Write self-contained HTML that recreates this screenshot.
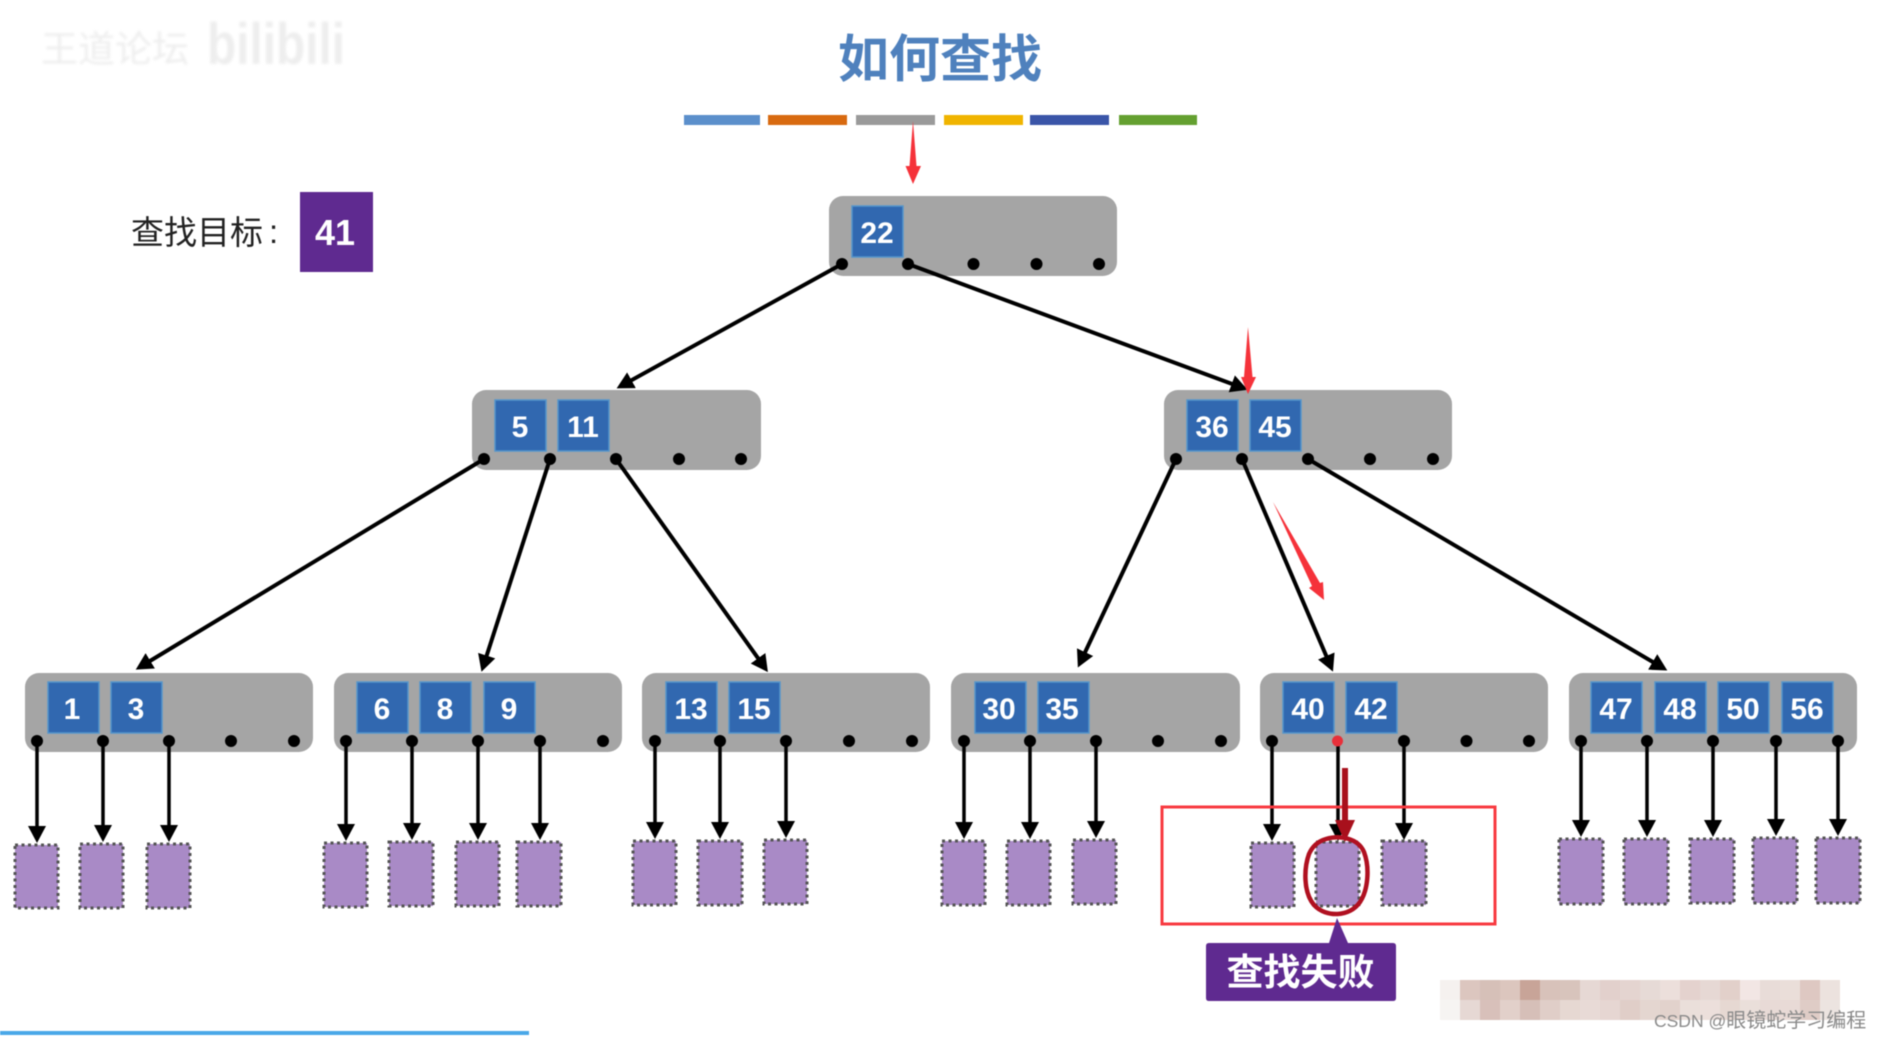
<!DOCTYPE html>
<html><head><meta charset="utf-8"><style>
html,body{margin:0;padding:0;background:#fff;width:1881px;height:1038px;overflow:hidden}
svg{display:block;filter:blur(.6px)}
text{font-family:"Liberation Sans","Noto Sans CJK SC",sans-serif}
.n{fill:#a5a5a5}
.k{fill:#3168b0;stroke:#5596cc;stroke-width:1.5}
.t{fill:#fff;font-weight:700;font-size:30px;text-anchor:middle}
.d{fill:#000}
.e{stroke:#000;stroke-width:4;fill:none;marker-end:url(#a)}
.v{stroke:#000;stroke-width:3.5;fill:none;marker-end:url(#a)}
.l{fill:#a98ac6;stroke:#555;stroke-width:3;stroke-dasharray:3 3.5}
</style></head><body>
<svg width="1881" height="1038" viewBox="0 0 1881 1038" xmlns="http://www.w3.org/2000/svg">
<defs>
<marker id="a" markerUnits="userSpaceOnUse" markerWidth="22" markerHeight="22" refX="12" refY="9" orient="auto"><path d="M0 0L17 9L0 18Z" fill="#000"/></marker>
<filter id="wm"><feGaussianBlur stdDeviation="1.2"/></filter>
</defs>

<!-- watermark -->
<g filter="url(#wm)" fill="#eeeeee">
<text x="41" y="62" font-size="37" style="font-weight:400">王道论坛</text>
<text x="207" y="64" font-size="58" font-weight="700" textLength="138" lengthAdjust="spacingAndGlyphs">bilibili</text>
</g>

<!-- title -->
<text x="940" y="77" font-size="51" font-weight="700" fill="#4f81bd" text-anchor="middle">如何查找</text>
<rect x="684" y="115" width="76" height="10" fill="#5b8fcb"/>
<rect x="768" y="115" width="79" height="10" fill="#d86a10"/>
<rect x="856" y="115" width="79" height="10" fill="#9a9a9a"/>
<rect x="944" y="115" width="79" height="10" fill="#f0b400"/>
<rect x="1030" y="115" width="79" height="10" fill="#3a55a8"/>
<rect x="1119" y="115" width="78" height="10" fill="#64a030"/>

<!-- target -->
<text x="131" y="244" font-size="33" fill="#222">查找目标</text>
<text x="269" y="243" font-size="33" fill="#222">:</text>
<rect x="300" y="192" width="73" height="80" fill="#5f2a90"/>
<text x="335" y="245" class="t" style="font-size:36px">41</text>

<!-- nodes -->
<rect class="n" x="829" y="196" width="288" height="80" rx="14"/>
<rect class="n" x="472" y="390" width="289" height="80" rx="14"/>
<rect class="n" x="1164" y="390" width="288" height="80" rx="14"/>
<rect class="n" x="25" y="673" width="288" height="79" rx="14"/>
<rect class="n" x="334" y="673" width="288" height="79" rx="14"/>
<rect class="n" x="642" y="673" width="288" height="79" rx="14"/>
<rect class="n" x="951" y="673" width="289" height="79" rx="14"/>
<rect class="n" x="1260" y="673" width="288" height="79" rx="14"/>
<rect class="n" x="1569" y="673" width="288" height="79" rx="14"/>

<!-- keys -->
<rect class="k" x="852" y="206" width="51" height="51"/><text class="t" x="877" y="243">22</text>
<rect class="k" x="495" y="400" width="51" height="51"/><text class="t" x="520" y="437">5</text>
<rect class="k" x="558" y="400" width="51" height="51"/><text class="t" x="583" y="437">11</text>
<rect class="k" x="1187" y="400" width="51" height="51"/><text class="t" x="1212" y="437">36</text>
<rect class="k" x="1250" y="400" width="51" height="51"/><text class="t" x="1275" y="437">45</text>
<rect class="k" x="48" y="682" width="51" height="51"/><text class="t" x="72" y="719">1</text>
<rect class="k" x="111" y="682" width="51" height="51"/><text class="t" x="136" y="719">3</text>
<rect class="k" x="357" y="682" width="51" height="51"/><text class="t" x="382" y="719">6</text>
<rect class="k" x="420" y="682" width="51" height="51"/><text class="t" x="445" y="719">8</text>
<rect class="k" x="484" y="682" width="51" height="51"/><text class="t" x="509" y="719">9</text>
<rect class="k" x="666" y="682" width="51" height="51"/><text class="t" x="691" y="719">13</text>
<rect class="k" x="729" y="682" width="51" height="51"/><text class="t" x="754" y="719">15</text>
<rect class="k" x="975" y="682" width="51" height="51"/><text class="t" x="999" y="719">30</text>
<rect class="k" x="1038" y="682" width="51" height="51"/><text class="t" x="1062" y="719">35</text>
<rect class="k" x="1283" y="682" width="51" height="51"/><text class="t" x="1308" y="719">40</text>
<rect class="k" x="1346" y="682" width="51" height="51"/><text class="t" x="1371" y="719">42</text>
<rect class="k" x="1591" y="682" width="51" height="51"/><text class="t" x="1616" y="719">47</text>
<rect class="k" x="1655" y="682" width="51" height="51"/><text class="t" x="1680" y="719">48</text>
<rect class="k" x="1718" y="682" width="51" height="51"/><text class="t" x="1743" y="719">50</text>
<rect class="k" x="1782" y="682" width="51" height="51"/><text class="t" x="1807" y="719">56</text>

<!-- leaves -->
<rect class="l" x="15" y="845" width="43" height="63"/>
<rect class="l" x="80" y="844" width="43" height="64"/>
<rect class="l" x="147" y="844" width="43" height="64"/>
<rect class="l" x="324" y="843" width="43" height="64"/>
<rect class="l" x="389" y="842" width="44" height="64"/>
<rect class="l" x="456" y="842" width="43" height="64"/>
<rect class="l" x="517" y="842" width="44" height="64"/>
<rect class="l" x="633" y="841" width="43" height="64"/>
<rect class="l" x="698" y="841" width="44" height="64"/>
<rect class="l" x="764" y="840" width="43" height="64"/>
<rect class="l" x="942" y="841" width="43" height="64"/>
<rect class="l" x="1007" y="841" width="43" height="64"/>
<rect class="l" x="1073" y="840" width="43" height="64"/>
<rect class="l" x="1251" y="843" width="43" height="64"/>
<rect class="l" x="1316" y="842" width="43" height="64"/>
<rect class="l" x="1382" y="841" width="44" height="64"/>
<rect class="l" x="1559" y="839" width="44" height="65"/>
<rect class="l" x="1624" y="839" width="44" height="65"/>
<rect class="l" x="1690" y="839" width="44" height="64"/>
<rect class="l" x="1753" y="838" width="44" height="65"/>
<rect class="l" x="1816" y="838" width="44" height="65"/>

<!-- big edges -->
<path class="e" d="M842 264L621 386"/>
<path class="e" d="M908 264L1243 388"/>
<path class="e" d="M484 459L140 667"/>
<path class="e" d="M550 459L483 667"/>
<path class="e" d="M616 459L765 668"/>
<path class="e" d="M1176 459L1080 663"/>
<path class="e" d="M1242 459L1331 667"/>
<path class="e" d="M1308 459L1663 668"/>

<!-- vertical edges -->
<path class="v" d="M37 741V838"/><path class="v" d="M103 741V837"/><path class="v" d="M169 741V837"/>
<path class="v" d="M346 741V836"/><path class="v" d="M412 741V835"/><path class="v" d="M478 741V835"/><path class="v" d="M540 741V835"/>
<path class="v" d="M655 741V834"/><path class="v" d="M720 741V834"/><path class="v" d="M786 741V833"/>
<path class="v" d="M964 741V834"/><path class="v" d="M1030 741V834"/><path class="v" d="M1096 741V833"/>
<path class="v" d="M1272 741V836"/><path class="v" d="M1338 741V836"/><path class="v" d="M1404 741V835"/>
<path class="v" d="M1581 741V832"/><path class="v" d="M1647 741V832"/><path class="v" d="M1713 741V832"/><path class="v" d="M1776 741V831"/><path class="v" d="M1838 741V831"/>

<!-- dots -->
<g class="d">
<circle cx="842" cy="264" r="6"/><circle cx="908" cy="264" r="6"/><circle cx="973.500" cy="264" r="6"/><circle cx="1036.500" cy="264" r="6"/><circle cx="1099" cy="264" r="6"/>
<circle cx="484" cy="459" r="6"/><circle cx="550" cy="459" r="6"/><circle cx="616" cy="459" r="6"/><circle cx="679" cy="459" r="6"/><circle cx="741" cy="459" r="6"/>
<circle cx="1176" cy="459" r="6"/><circle cx="1242" cy="459" r="6"/><circle cx="1308" cy="459" r="6"/><circle cx="1370" cy="459" r="6"/><circle cx="1433" cy="459" r="6"/>
<circle cx="37" cy="741" r="6"/><circle cx="103" cy="741" r="6"/><circle cx="169" cy="741" r="6"/><circle cx="231" cy="741" r="6"/><circle cx="294" cy="741" r="6"/>
<circle cx="346" cy="741" r="6"/><circle cx="412" cy="741" r="6"/><circle cx="478" cy="741" r="6"/><circle cx="540" cy="741" r="6"/><circle cx="603" cy="741" r="6"/>
<circle cx="655" cy="741" r="6"/><circle cx="720" cy="741" r="6"/><circle cx="786" cy="741" r="6"/><circle cx="849" cy="741" r="6"/><circle cx="912" cy="741" r="6"/>
<circle cx="964" cy="741" r="6"/><circle cx="1030" cy="741" r="6"/><circle cx="1096" cy="741" r="6"/><circle cx="1158" cy="741" r="6"/><circle cx="1221" cy="741" r="6"/>
<circle cx="1272" cy="741" r="6"/><circle cx="1404" cy="741" r="6"/><circle cx="1466.500" cy="741" r="6"/><circle cx="1529" cy="741" r="6"/>
<circle cx="1581" cy="741" r="6"/><circle cx="1647" cy="741" r="6"/><circle cx="1713" cy="741" r="6"/><circle cx="1776" cy="741" r="6"/><circle cx="1838" cy="741" r="6"/>
</g>
<circle cx="1337.500" cy="741" r="5.500" fill="#e8303a"/>

<!-- red annotations -->
<path d="M913 121L916.500 166L921 166L913 184L905.500 166L909.500 166Z" fill="#f5323a"/>
<path d="M1248 327L1252.500 377L1256 377L1248 394L1241 377L1244 377Z" fill="#f5323a"/>
<path d="M1273 502L1320 583L1323 582L1324 600L1309 588L1312 586Z" fill="#f5323a"/>
<rect x="1162" y="807" width="333" height="117" fill="none" stroke="#f83a40" stroke-width="3"/>
<path d="M1342 768H1348V820H1355L1345 842L1335 820H1342Z" fill="#a8101c"/>
<path d="M1326 839C1340 835 1358 838 1364 852C1370 868 1368 890 1360 902C1350 917 1326 918 1314 905C1303 892 1304 868 1309 854C1313 845 1319 841 1326 839Z" fill="none" stroke="#b01020" stroke-width="4.500"/>

<!-- callout -->
<path d="M1337 918L1348 943H1393Q1396 943 1396 946V998Q1396 1001 1393 1001H1209Q1206 1001 1206 998V946Q1206 943 1209 943H1329Z" fill="#5f2a90"/>
<text x="1300.500" y="985" font-size="37" font-weight="700" fill="#fff" text-anchor="middle">查找失败</text>

<!-- pixelated area -->
<g>
<rect x="1440" y="980" width="20" height="20" fill="#f5f1ef"/><rect x="1460" y="980" width="20" height="20" fill="#dcc6bf"/><rect x="1480" y="980" width="20" height="20" fill="#d6c0b8"/><rect x="1500" y="980" width="20" height="20" fill="#dcc6be"/><rect x="1520" y="980" width="20" height="20" fill="#c8a498"/><rect x="1540" y="980" width="20" height="20" fill="#d8c2ba"/><rect x="1560" y="980" width="20" height="20" fill="#d8c4bc"/><rect x="1580" y="980" width="20" height="20" fill="#e6d8d4"/><rect x="1600" y="980" width="20" height="20" fill="#e2d0cc"/><rect x="1620" y="980" width="20" height="20" fill="#e4d4d0"/><rect x="1640" y="980" width="20" height="20" fill="#e6dad6"/><rect x="1660" y="980" width="20" height="20" fill="#ecdfdb"/><rect x="1680" y="980" width="20" height="20" fill="#e4d2ce"/><rect x="1700" y="980" width="20" height="20" fill="#e6d8d4"/><rect x="1720" y="980" width="20" height="20" fill="#e2d0ca"/><rect x="1740" y="980" width="20" height="20" fill="#f2e6e4"/><rect x="1760" y="980" width="20" height="20" fill="#e8dcd8"/><rect x="1780" y="980" width="20" height="20" fill="#eaded9"/><rect x="1800" y="980" width="20" height="20" fill="#dec8c2"/><rect x="1820" y="980" width="20" height="20" fill="#ece2de"/>
<rect x="1440" y="1000" width="20" height="20" fill="#f6f4f2"/><rect x="1460" y="1000" width="20" height="20" fill="#e6d8d4"/><rect x="1480" y="1000" width="20" height="20" fill="#d8c0ba"/><rect x="1500" y="1000" width="20" height="20" fill="#e2d0ca"/><rect x="1520" y="1000" width="20" height="20" fill="#d6bfb8"/><rect x="1540" y="1000" width="20" height="20" fill="#e0cec8"/><rect x="1560" y="1000" width="20" height="20" fill="#e6d8d2"/><rect x="1580" y="1000" width="20" height="20" fill="#e8dad6"/><rect x="1600" y="1000" width="20" height="20" fill="#e6d6d2"/><rect x="1620" y="1000" width="20" height="20" fill="#e0cec8"/><rect x="1640" y="1000" width="20" height="20" fill="#e4d6d0"/><rect x="1660" y="1000" width="20" height="20" fill="#e2d2cc"/><rect x="1680" y="1000" width="20" height="20" fill="#eadfda"/><rect x="1700" y="1000" width="20" height="20" fill="#ecdfdb"/><rect x="1720" y="1000" width="20" height="20" fill="#e6d8d2"/><rect x="1740" y="1000" width="20" height="20" fill="#eadfda"/><rect x="1760" y="1000" width="20" height="20" fill="#e8dad6"/><rect x="1780" y="1000" width="20" height="20" fill="#e8dad6"/><rect x="1800" y="1000" width="20" height="20" fill="#dfccc6"/><rect x="1820" y="1000" width="20" height="20" fill="#ece4e0"/>
</g>
<text x="1654" y="1027" font-size="17.500" fill="#8a8a8a">CSDN @<tspan font-size="20">眼镜蛇学习编程</tspan></text>

<!-- bottom bar -->
<rect x="0" y="1031" width="529" height="4" fill="#4aa8e8"/>
</svg>
</body></html>
